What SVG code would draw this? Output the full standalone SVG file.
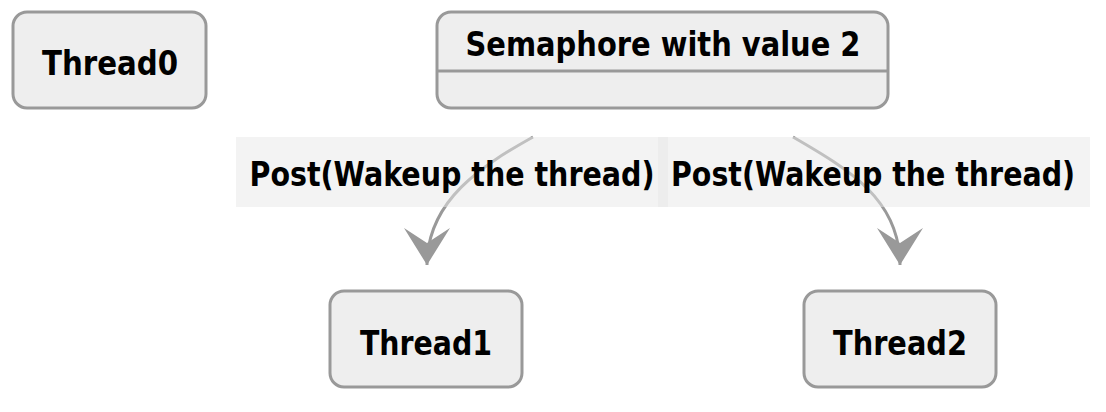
<svg xmlns="http://www.w3.org/2000/svg" width="1106" height="412" viewBox="0 0 1106 412">
<style>
.box{fill:#eeeeee;stroke:#999999;stroke-width:3}
.t{font-family:"DejaVu Sans Condensed","DejaVu Sans",sans-serif;font-weight:bold;font-size:34px;fill:#000;text-anchor:middle}
.edge{fill:none;stroke:#999999;stroke-width:3}
.lbg{fill:#e8e8e8;fill-opacity:0.5}
</style>
<defs>
<marker id="arr" markerUnits="userSpaceOnUse" viewBox="0 0 37 46" refX="37" refY="23" markerWidth="37" markerHeight="46" orient="auto">
<path d="M0,0 L37,23 L0,46 L15,23 z" fill="#999999"/>
</marker>
</defs>
<g id="Thread0">
<rect class="box" x="13" y="12" width="193" height="96" rx="14"/>
<text class="t" x="110" y="75" textLength="136" lengthAdjust="spacingAndGlyphs">Thread0</text>
</g>
<g id="Semaphore">
<rect class="box" x="437" y="12" width="451" height="96" rx="14"/>
<line x1="437" y1="71" x2="888" y2="71" stroke="#999999" stroke-width="3"/>
<text class="t" x="663" y="56" textLength="395" lengthAdjust="spacingAndGlyphs">Semaphore with value 2</text>
</g>
<g id="Thread1">
<rect class="box" x="330" y="291" width="192" height="96" rx="14"/>
<text class="t" x="426" y="355" textLength="132" lengthAdjust="spacingAndGlyphs">Thread1</text>
</g>
<g id="Thread2">
<rect class="box" x="804" y="291" width="192" height="96" rx="14"/>
<text class="t" x="900" y="355" textLength="134" lengthAdjust="spacingAndGlyphs">Thread2</text>
</g>
<g id="connectors">
<path class="edge" d="M533,137 C483,165 427,200 427,265" marker-end="url(#arr)"/>
<path class="edge" d="M793,137 C850,170 900,200 900,265" marker-end="url(#arr)"/>
<rect class="lbg" x="236" y="137" width="432" height="70"/>
<rect class="lbg" x="658" y="137" width="432" height="70"/>
<text class="t" x="452" y="186" textLength="405" lengthAdjust="spacingAndGlyphs">Post(Wakeup the thread)</text>
<text class="t" x="873" y="186" textLength="404" lengthAdjust="spacingAndGlyphs">Post(Wakeup the thread)</text>
</g>
</svg>
